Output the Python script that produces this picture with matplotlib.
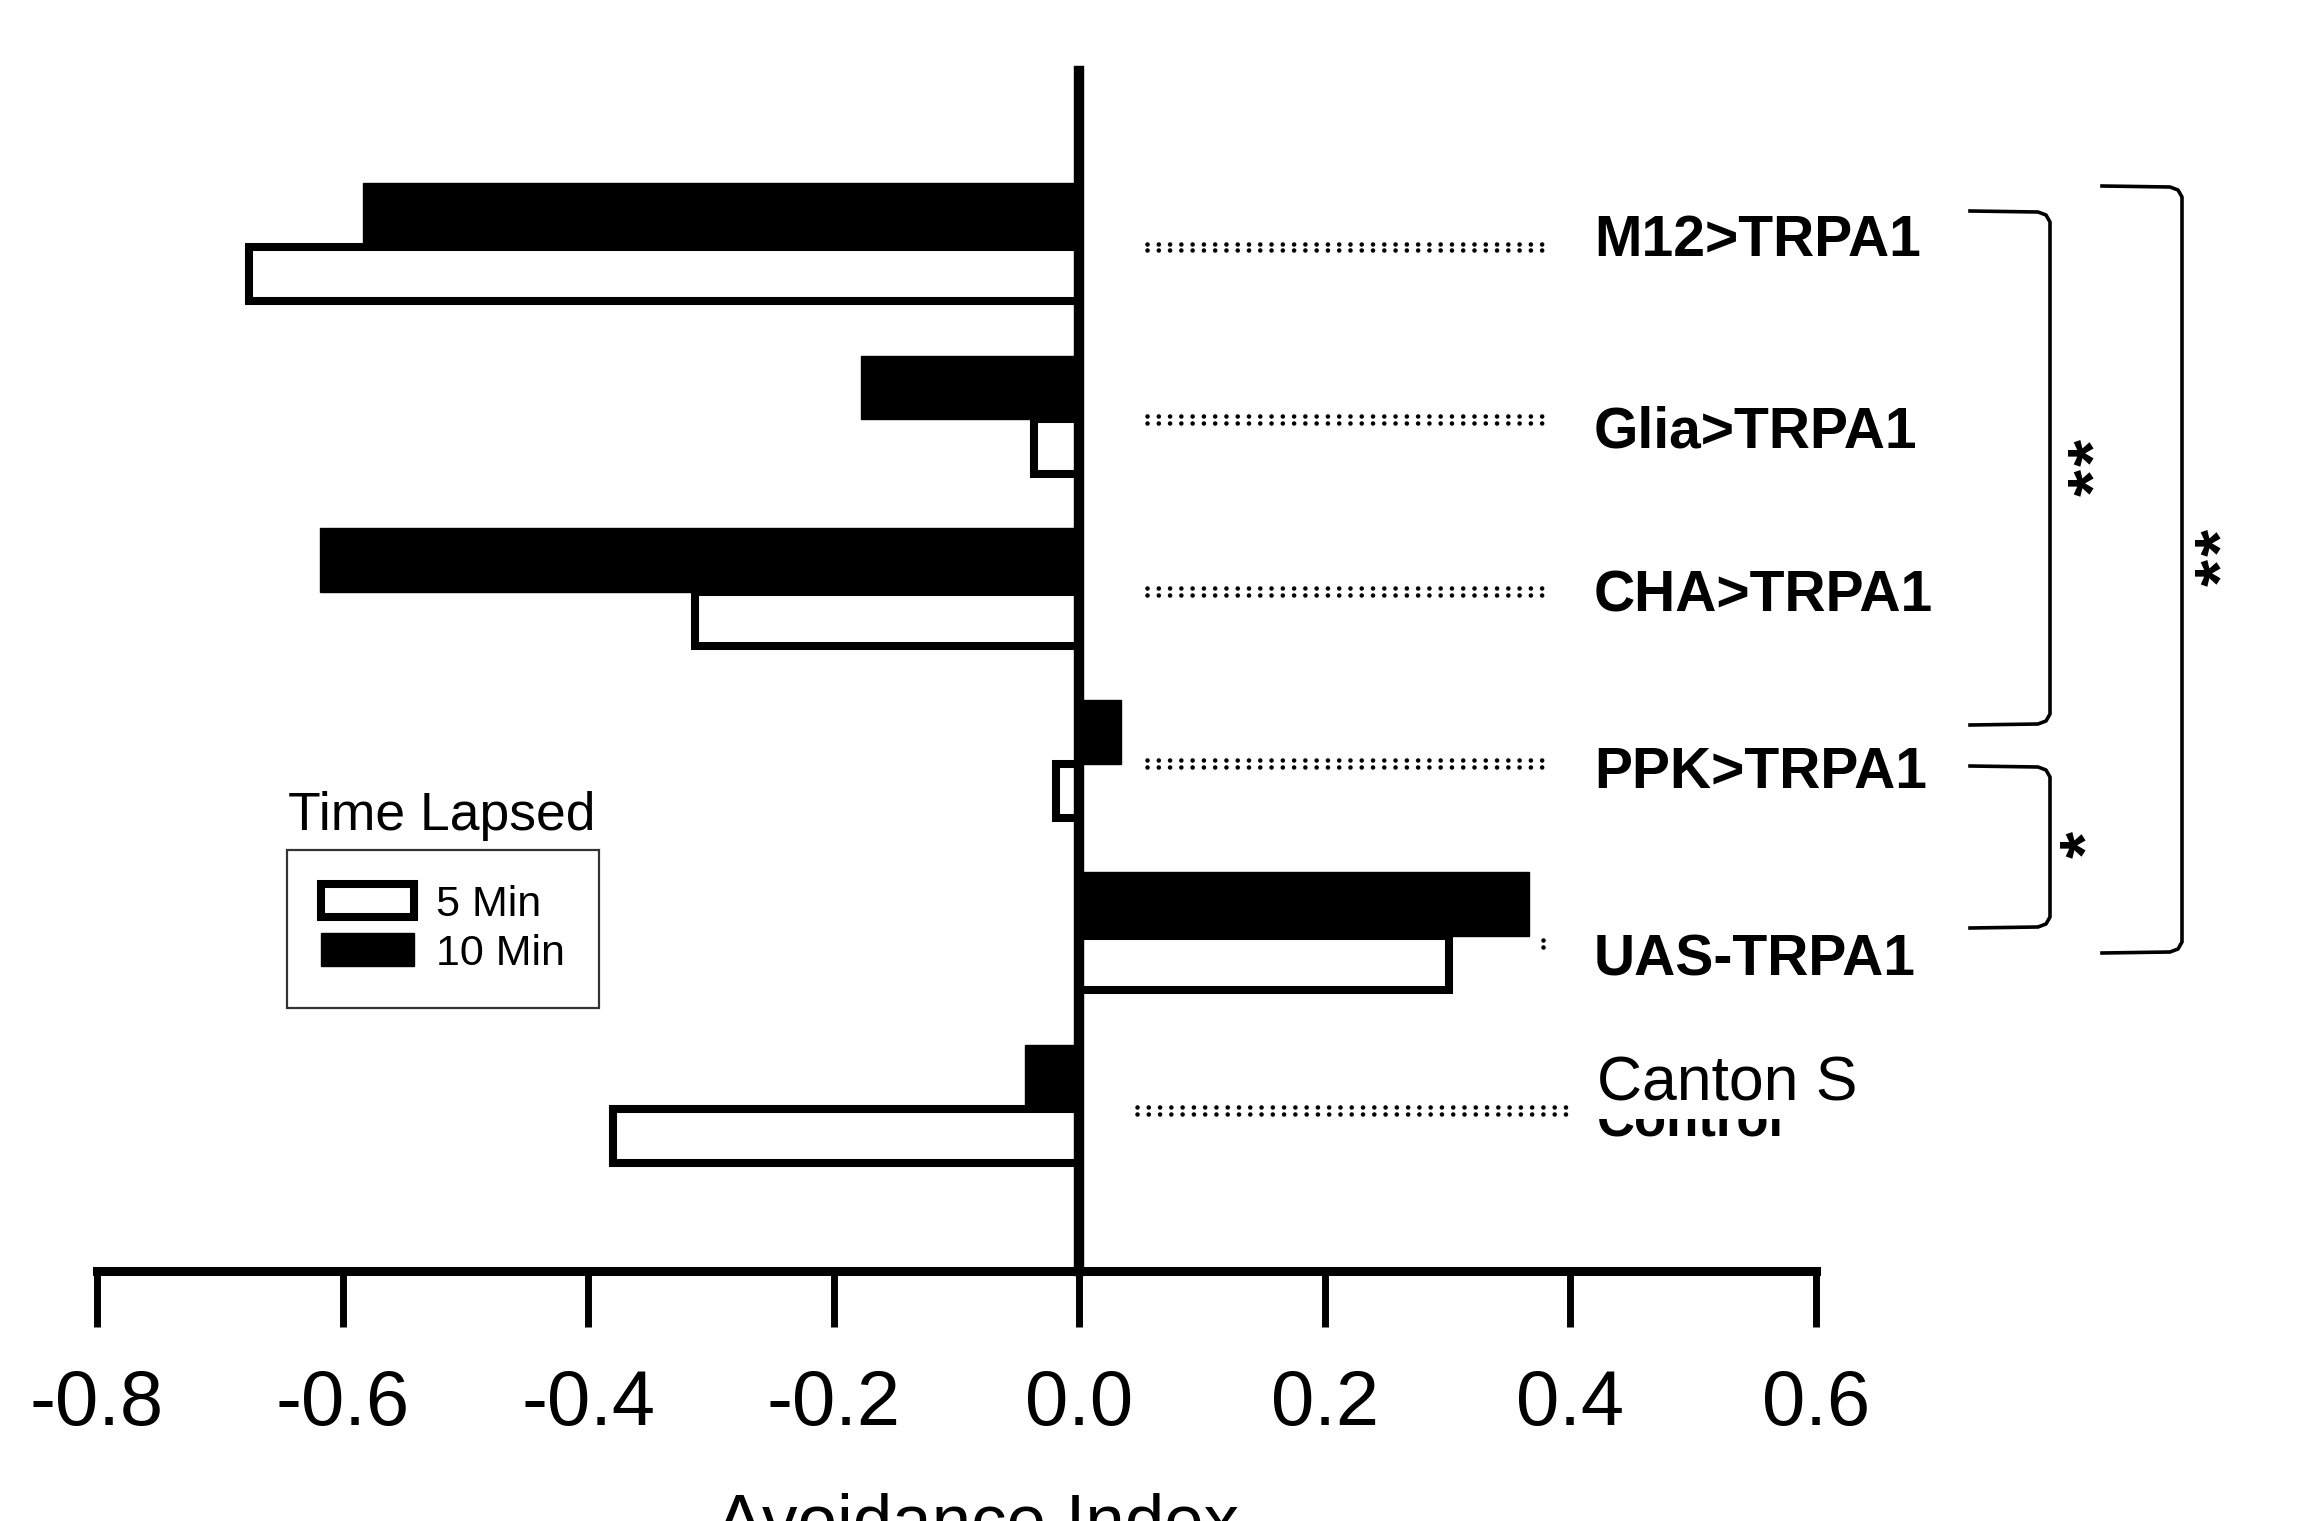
import matplotlib
matplotlib.use('Agg')
import matplotlib.pyplot as plt
from matplotlib.lines import Line2D

plt.rcParams['font.family'] = ['Liberation Sans', 'DejaVu Sans']

# ---------------- data ----------------
genotypes = ['M12>TRPA1', 'Glia>TRPA1', 'CHA>TRPA1', 'PPK>TRPA1', 'UAS-TRPA1', 'Canton S']
min5 = [-0.676, -0.037, -0.313, -0.019, 0.301, -0.380]
min10 = [-0.583, -0.178, -0.618, 0.034, 0.366, -0.044]
series_labels = ['5 Min', '10 Min']
legend_title = 'Time Lapsed'
xticks = [-0.8, -0.6, -0.4, -0.2, 0.0, 0.2, 0.4, 0.6]
xtick_labels = ['-0.8', '-0.6', '-0.4', '-0.2', '0.0', '0.2', '0.4', '0.6']
x_label = 'Avoidance Index'
hidden_label = 'Control'
sig_marks = [2, 1, 2]   # number of stars per bracket

W, H = 2305, 1521
fig = plt.figure(figsize=(W / 100, H / 100), dpi=100)
ax = fig.add_axes([97 / W, 1 - 1271 / H, 1719 / W, (1271 - 70.6) / H])

pos = list(range(len(genotypes)))
h10, h5 = 0.37, 0.315

bars5 = ax.barh([p for p in pos], min5, height=h5, align='edge',
                facecolor='white', edgecolor='black', linewidth=5.8, zorder=2,
                label=series_labels[0])
bars10 = ax.barh([p - h10 for p in pos], min10, height=h10, align='edge',
                 facecolor='black', edgecolor='black', linewidth=1, zorder=3,
                 label=series_labels[1])

ax.set_xlim(xticks[0], xticks[-1])
ax.set_ylim(5.943, -1.024)

for s in ['top', 'right']:
    ax.spines[s].set_visible(False)
ax.spines['left'].set_position(('data', 0))
ax.spines['left'].set_linewidth(7.5)
ax.spines['left'].set_zorder(4)
ax.spines['bottom'].set_linewidth(6.5)
ax.tick_params(axis='y', left=False, labelleft=False)
ax.set_xticks(xticks)
ax.set_xticklabels(xtick_labels)
ax.tick_params(axis='x', direction='out', length=40, width=5, pad=30, labelsize=56)

# dotted leader lines
def dots(x0, x1, y):
    for dy in (-0.02, 0.02):
        ax.plot([x0, x1], [y + dy, y + dy], color='black', lw=3.3,
                linestyle=(0, (0.01, 2.45)), dash_capstyle='round',
                clip_on=False, zorder=3)

for i, g in enumerate(genotypes):
    if g == 'UAS-TRPA1':
        dots(0.378, 0.386, i + 0.04)
    elif g == 'Canton S':
        dots(0.047, 0.396, i + 0.01)
    else:
        dots(0.0554, 0.385, i)

# category labels
label_dy = [-0.035, 0.074, 0.03, 0.05, 0.14]
for i, g in enumerate(genotypes[:5]):
    ax.text(0.419, i + label_dy[i], g, ha='left', va='center', fontsize=41,
            fontweight='bold', clip_on=False, zorder=5)

# Canton S label covering a 'Control' label underneath
ci = len(genotypes) - 1
ax.text(0.4215, ci + 0.154, hidden_label, ha='left', va='baseline', fontsize=38,
        fontweight='bold', clip_on=False, zorder=5)
ax.text(0.4218, ci - 0.049, genotypes[-1], ha='left', va='baseline', fontsize=45,
        clip_on=False, zorder=6,
        bbox=dict(boxstyle='square,pad=0.1', facecolor='white', edgecolor='none'))

# x label (partly outside figure)
fig.text(978 / W, 1 - 1543 / H, x_label, ha='center', va='baseline', fontsize=51)

# legend
leg = ax.legend(handles=[bars5, bars10], labels=series_labels, loc='upper left',
                bbox_to_anchor=(287 / W, 1 - 850 / H), bbox_transform=fig.transFigure,
                borderaxespad=0, fontsize=31, frameon=True, fancybox=False,
                edgecolor='black', handlelength=2.15, handleheight=0.8,
                handletextpad=0.5, labelspacing=0.2, borderpad=0.8)
leg.get_frame().set_linewidth(1.6)
fig.text(288 / W, 1 - 830 / H, legend_title, ha='left', va='baseline', fontsize=38.5)

# significance brackets (figure pixel coordinates)
def bracket(x0, xc, y0, y1, nstars, xs, ys):
    xs_ = [x0, xc - 12, xc - 4, xc, xc, xc - 4, xc - 12, x0]
    ys_ = [y0, y0 + 1, y0 + 4, y0 + 11, y1 - 11, y1 - 4, y1 - 1, y1]
    fig.add_artist(Line2D([x / W for x in xs_], [1 - y / H for y in ys_],
                          color='black', lw=2.6, solid_joinstyle='round'))
    gap = 30
    for k in range(nstars):
        yk = ys + (k - (nstars - 1) / 2) * gap
        fig.text((xs + 15) / W, 1 - (yk - 2) / H, '*', rotation=90, ha='center',
                 va='center', fontsize=50, fontweight='bold')

bracket(1970, 2050, 211, 725, sig_marks[0], 2082, 469)
bracket(1970, 2050, 766, 928, sig_marks[1], 2074, 846)
bracket(2102, 2182, 186, 953, sig_marks[2], 2209, 559)

fig.savefig('out.png', dpi=100)
